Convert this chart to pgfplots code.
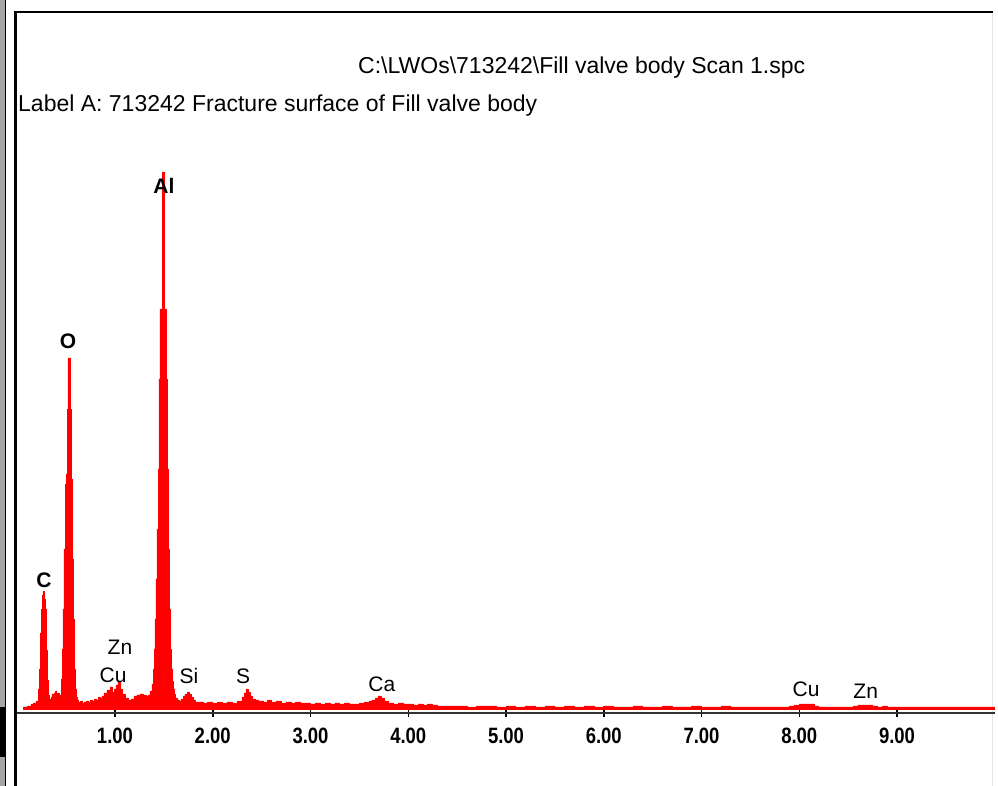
\documentclass[border=0pt]{standalone}
\usepackage{fontspec}
\setmainfont{Liberation Sans}
\usepackage{graphicx}
\usepackage{pgfplots}
\pgfplotsset{compat=1.18}
\newcommand{\tl}[1]{\scalebox{1}[1.2]{#1}}
\pgfplotstableread{
x v
0.060 0
0.060 2
0.100 3
0.140 5
0.170 6
0.200 8
0.215 20
0.225 40
0.235 76
0.245 100
0.255 114
0.265 118
0.275 110
0.285 100
0.295 59
0.305 29
0.315 14
0.325 10
0.335 8
0.345 12
0.355 15
0.365 10
0.375 16
0.385 13
0.395 18
0.405 14
0.415 16
0.427 12
0.437 14
0.448 30
0.458 60
0.468 100
0.478 160
0.489 225
0.499 235
0.509 300
0.519 351
0.529 351
0.540 300
0.550 230
0.560 150
0.570 90
0.581 40
0.591 20
0.601 12
0.611 9
0.630 7
0.650 8
0.670 6
0.690 7
0.710 8
0.730 7
0.750 9
0.770 8
0.790 10
0.810 9
0.830 12
0.847 11
0.867 13
0.887 16
0.918 19
0.949 22
0.969 17
0.990 20
1.010 24
1.030 27
1.051 20
1.072 15
1.102 11
1.133 9
1.164 10
1.194 13
1.225 14
1.256 15
1.286 14
1.317 13
1.338 14
1.358 18
1.378 25
1.389 40
1.399 60
1.409 90
1.419 130
1.429 180
1.440 240
1.450 330
1.460 400
1.470 400
1.481 537
1.491 537
1.501 400
1.511 400
1.522 330
1.532 240
1.542 160
1.552 100
1.563 60
1.573 40
1.583 28
1.593 20
1.603 15
1.614 11
1.634 9
1.655 8
1.675 10
1.696 13
1.716 15
1.737 17
1.757 15
1.777 12
1.798 9
1.818 7
1.850 7
1.900 6
1.950 7
2.000 6
2.050 7
2.100 6
2.150 7
2.200 6
2.250 8
2.299 12
2.320 16
2.340 20
2.361 17
2.381 13
2.402 10
2.432 9
2.470 8
2.520 7
2.560 9
2.600 7
2.650 8
2.700 6
2.750 7
2.800 6
2.850 7
2.900 6
2.950 6
3.000 5
3.050 6
3.100 5
3.150 6
3.200 5
3.250 6
3.300 5
3.350 6
3.400 5
3.450 5
3.500 6
3.550 7
3.600 8
3.629 9
3.660 11
3.690 13
3.721 11
3.752 8
3.800 6
3.850 5
3.900 6
3.950 5
4.000 5
4.050 4
4.100 5
4.150 4
4.200 5
4.250 4
4.300 3
4.400 3
4.500 3
4.600 2
4.700 3
4.800 3
4.900 2
5.000 3
5.100 2
5.200 3
5.300 2
5.400 3
5.500 2
5.600 3
5.700 2
5.800 3
5.900 2
6.000 3
6.100 2
6.200 2
6.300 3
6.400 2
6.500 2
6.600 3
6.700 2
6.800 2
6.900 3
7.000 2
7.100 2
7.200 3
7.300 2
7.400 2
7.500 2
7.600 2
7.700 2
7.800 2
7.900 3
7.950 4
8.000 5
8.050 5
8.100 5
8.150 3
8.200 2
8.300 2
8.400 2
8.500 2
8.550 3
8.600 4
8.650 4
8.700 4
8.750 3
8.800 2
8.850 3
8.900 2
9.000 2
9.200 2
9.400 2
9.600 2
9.800 2
10.000 2
}\spectrum
\begin{document}
\begin{tikzpicture}
\useasboundingbox (0pt,0pt) rectangle (998pt,786pt);
\fill[white] (0pt,0pt) rectangle (998pt,786pt);
% left strip
\fill[gray!70] (0pt,0pt) rectangle (5pt,786pt);
\fill[black] (0pt,29pt) rectangle (6pt,79pt);
\draw[black, line width=1.5pt] (5.5pt,0pt) -- (5.5pt,786pt);
% frame
\draw[black, line width=2.5pt] (15.5pt,0pt) -- (15.5pt,774pt) -- (993pt,774pt);
\draw[black!10, line width=1pt] (992.5pt,0pt) -- (992.5pt,773pt);
\begin{axis}[
  at={(17.25pt,73pt)}, anchor=south west,
  scale only axis, width=977.5pt, height=701pt,
  xmin=0, xmax=10, ymin=-4, ymax=697,
  axis x line*=bottom, axis y line=none,
  x axis line style={draw=black!80, line width=2pt},
  xtick={1,2,3,4,5,6,7,8,9},
  xticklabels={\tl{1.00},\tl{2.00},\tl{3.00},\tl{4.00},\tl{5.00},\tl{6.00},\tl{7.00},\tl{8.00},\tl{9.00}},
  xtick align=center, major tick length=8pt,
  tick style={black, line width=1.5pt},
  xticklabel style={font=\fontsize{18.5}{18.5}\selectfont\bfseries, anchor=center, yshift=-19pt},
  clip=false,
]
\addplot[const plot, draw=red, fill=red, line width=0.8pt] table[x=x, y=v] {\spectrum} \closedcycle;
\begin{scope}[every node/.style={font=\fontsize{21}{21}\selectfont, anchor=center, inner sep=0pt}]
\node[font=\fontsize{21}{21}\selectfont\bfseries] at (axis cs:1.501,523) {Al};
\node[font=\fontsize{21}{21}\selectfont\bfseries] at (axis cs:0.519,368) {O};
\node[font=\fontsize{21}{21}\selectfont\bfseries] at (axis cs:0.273,129) {C};
\node at (axis cs:1.051,62) {Zn};
\node at (axis cs:0.980,34) {Cu};
\node at (axis cs:1.757,33) {Si};
\node at (axis cs:2.310,33) {S};
\node at (axis cs:3.730,25) {Ca};
\node at (axis cs:8.070,20) {Cu};
\node at (axis cs:8.680,18) {Zn};
\end{scope}
\end{axis}
\node[anchor=base west, inner sep=0pt, font=\fontsize{23}{23}\selectfont] at (358pt,712pt) {C:\textbackslash LWOs\textbackslash 713242\textbackslash Fill valve body Scan 1.spc};
\node[anchor=base west, inner sep=0pt, font=\fontsize{23}{23}\selectfont] at (18pt,674.5pt) {Label A: 713242 Fracture surface of Fill valve body};
\end{tikzpicture}
\end{document}
